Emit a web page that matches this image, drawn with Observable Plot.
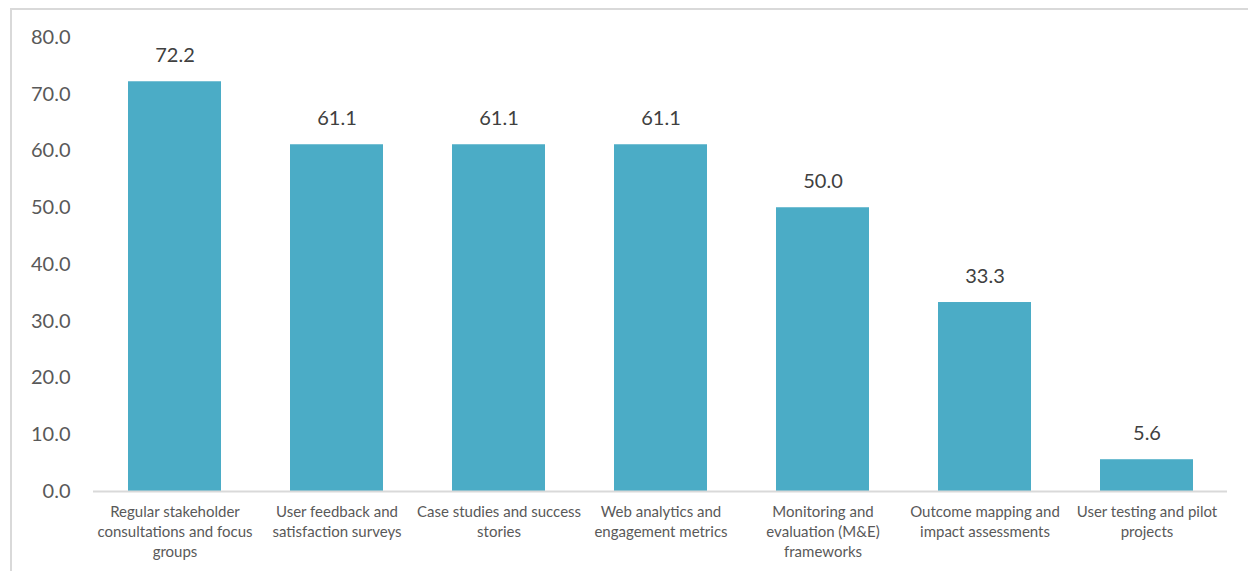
<!DOCTYPE html>
<html>
<head>
<meta charset="utf-8">
<script src="https://cdn.jsdelivr.net/npm/d3@7"></script>
<script src="https://cdn.jsdelivr.net/npm/@observablehq/plot@0.6"></script>
<style>
  html, body { margin: 0; padding: 0; background: #fff; }
  #wrap { position: relative; width: 1248px; height: 571px; overflow: hidden; }
  #frame { position: absolute; left: 10px; top: 8px; width: 1250px; height: 600px;
           border-left: 2px solid #d9d9d9; border-top: 2px solid #d9d9d9; box-sizing: border-box; }
  #chart { position: absolute; left: 0; top: 0; }
</style>
</head>
<body>
<div id="wrap">
  <div id="frame"></div>
  <div id="chart"></div>
</div>
<script>
const categories = [
  "Regular stakeholder\nconsultations and focus\ngroups",
  "User feedback and\nsatisfaction surveys",
  "Case studies and success\nstories",
  "Web analytics and\nengagement metrics",
  "Monitoring and\nevaluation (M&E)\nframeworks",
  "Outcome mapping and\nimpact assessments",
  "User testing and pilot\nprojects"
];
const values = [72.2, 61.1, 61.1, 61.1, 50.0, 33.3, 5.6];
const yTicks = [0, 10, 20, 30, 40, 50, 60, 70, 80];

const data = categories.map((c, i) => ({category: c, value: values[i]}));

const chart = Plot.plot({
  width: 1248,
  height: 571,
  marginLeft: 93,
  marginRight: 21,
  marginTop: 37,
  marginBottom: 80,
  style: {fontFamily: "Lato, 'Open Sans', sans-serif", color: "#595959", background: "transparent"},
  x: {domain: categories, paddingInner: 0.426, paddingOuter: 0.213, axis: null},
  y: {domain: [0, 80], ticks: yTicks, tickFormat: d => d.toFixed(1)},
  marks: [
    Plot.axisY({ticks: yTicks, tickFormat: d => d.toFixed(1), tickSize: 0, tickPadding: 23,
                fontSize: 20, label: null, fill: "#595959"}),
    Plot.barY(data, {x: "category", y: "value", fill: "#4bacc6"}),
    Plot.ruleY([0], {stroke: "#d9d9d9", strokeWidth: 2}),
    Plot.text(data, {x: "category", y: "value", text: d => d.value.toFixed(1),
                     dy: -26, fontSize: 20, fill: "#404040"}),
    Plot.text(data, {x: "category", y: () => 0, text: "category", lineAnchor: "top",
                     dy: 11, fontSize: 15, lineHeight: 1.34, fill: "#595959"})
  ]
});
document.getElementById("chart").appendChild(chart);
</script>
</body>
</html>
